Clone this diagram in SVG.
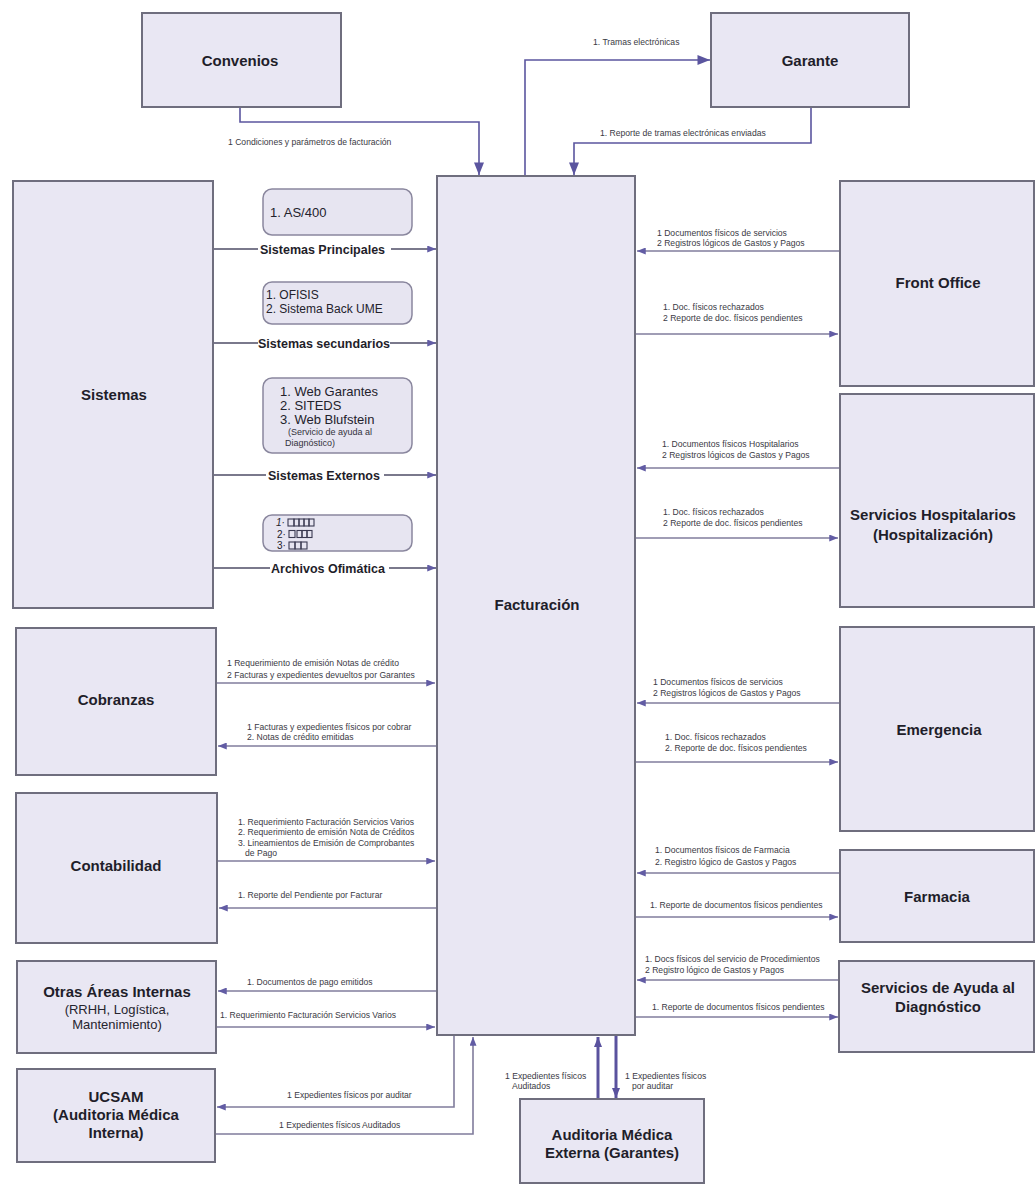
<svg xmlns="http://www.w3.org/2000/svg" width="1036" height="1185" viewBox="0 0 1036 1185">
  <style>
    .box { fill: #e9e7f3; stroke: #6f6e7e; stroke-width: 2; }
    .sbox { fill: #e7e5f1; stroke: #8a879e; stroke-width: 1.5; }
    .node { font-family: "Liberation Sans", Arial, sans-serif; font-weight: bold; font-size: 15px; fill: #1f1e2a; text-anchor: middle; }
    .nsub { font-family: "Liberation Sans", Arial, sans-serif; font-size: 13px; fill: #26252f; text-anchor: middle; }
    .lbl { font-family: "Liberation Sans", Arial, sans-serif; font-size: 8.6px; fill: #3a3a44; }
    .sys { font-family: "Liberation Sans", Arial, sans-serif; font-size: 13px; fill: #23222c; }
    .sys2 { font-family: "Liberation Sans", Arial, sans-serif; font-size: 12px; fill: #23222c; }
    .num { font-family: "Liberation Sans", Arial, sans-serif; font-size: 10px; fill: #23222c; }
    .sysn { font-family: "Liberation Sans", Arial, sans-serif; font-size: 9px; fill: #33323c; }
    .sysl { font-family: "Liberation Sans", Arial, sans-serif; font-weight: bold; font-size: 12.5px; fill: #1f1e2a; }
    .ln { fill: none; stroke: #807c9c; stroke-width: 1.6; }
    .lnd { fill: none; stroke: #5b559f; stroke-width: 1.6; }
    .lns { fill: none; stroke: #4e4c66; stroke-width: 1.4; }
    .lnb { fill: none; stroke: #5a529e; stroke-width: 3; }
    .tofu { fill: none; stroke: #3a3950; stroke-width: 1.1; }
  </style>
  <defs>
    <marker id="arr" viewBox="0 0 10 8" refX="10" refY="4" markerWidth="9" markerHeight="7" markerUnits="userSpaceOnUse" orient="auto">
      <path d="M0,0 L10,4 L0,8 z" fill="#625ca4"/>
    </marker>
    <marker id="arrBig" viewBox="0 0 10 8" refX="10" refY="4" markerWidth="13" markerHeight="10" markerUnits="userSpaceOnUse" orient="auto">
      <path d="M0,0 L10,4 L0,8 z" fill="#5b559f"/>
    </marker>
    <marker id="arrThick" viewBox="0 0 10 8" refX="10" refY="4" markerWidth="10" markerHeight="9" markerUnits="userSpaceOnUse" orient="auto">
      <path d="M0,0 L10,4 L0,8 z" fill="#5a529e"/>
    </marker>
  </defs>

  <rect width="1036" height="1185" fill="#ffffff"/>

  <!-- connectors -->
  <g id="connectors">
    <!-- top -->
    <path class="lnd" d="M240,107 V122 H479 V175" marker-end="url(#arrBig)"/>
    <path class="lnd" d="M525,176 V60 H710" marker-end="url(#arrBig)"/>
    <path class="lnd" d="M811,107 V143 H574 V175" marker-end="url(#arrBig)"/>

    <!-- Sistemas channels -->
    <path class="lns" d="M213,249 H258"/><path class="lns" d="M391,249 H436" marker-end="url(#arr)"/>
    <path class="lns" d="M213,343 H258"/><path class="lns" d="M390,343 H436" marker-end="url(#arr)"/>
    <path class="lns" d="M213,475 H266"/><path class="lns" d="M384,475 H436" marker-end="url(#arr)"/>
    <path class="lns" d="M213,568 H270"/><path class="lns" d="M389,568 H436" marker-end="url(#arr)"/>

    <!-- right side -->
    <path class="ln" d="M840,251 H637" marker-end="url(#arr)"/>
    <path class="ln" d="M635,334 H838" marker-end="url(#arr)"/>
    <path class="ln" d="M840,468 H637" marker-end="url(#arr)"/>
    <path class="ln" d="M635,538 H838" marker-end="url(#arr)"/>
    <path class="ln" d="M840,703 H637" marker-end="url(#arr)"/>
    <path class="ln" d="M635,762 H838" marker-end="url(#arr)"/>
    <path class="ln" d="M840,873 H637" marker-end="url(#arr)"/>
    <path class="ln" d="M635,917 H838" marker-end="url(#arr)"/>
    <path class="ln" d="M840,980 H637" marker-end="url(#arr)"/>
    <path class="ln" d="M635,1017 H838" marker-end="url(#arr)"/>

    <!-- left side -->
    <path class="ln" d="M216,683 H435" marker-end="url(#arr)"/>
    <path class="ln" d="M437,746 H218" marker-end="url(#arr)"/>
    <path class="ln" d="M217,861 H435" marker-end="url(#arr)"/>
    <path class="ln" d="M437,908 H219" marker-end="url(#arr)"/>
    <path class="ln" d="M437,991 H218" marker-end="url(#arr)"/>
    <path class="ln" d="M216,1027 H435" marker-end="url(#arr)"/>

    <!-- UCSAM loop -->
    <path class="ln" d="M454,1035 V1107 H217" marker-end="url(#arr)"/>
    <path class="ln" d="M215,1134 H473 V1037" marker-end="url(#arr)"/>

    <!-- external audit -->
    <path class="lnb" d="M598,1099 V1037" marker-end="url(#arrThick)"/>
    <path class="lnb" d="M616,1036 V1098" marker-end="url(#arrThick)"/>
  </g>

  <!-- connector labels -->
  <g id="labels">
    <text class="lbl" x="228" y="145">1 Condiciones y parámetros de facturación</text>
    <text class="lbl" x="593" y="45">1. Tramas electrónicas</text>
    <text class="lbl" x="600" y="136">1. Reporte de tramas electrónicas enviadas</text>

    <text class="lbl" x="657" y="236">1 Documentos físicos de servicios</text>
    <text class="lbl" x="657" y="246">2 Registros lógicos de Gastos y Pagos</text>
    <text class="lbl" x="663" y="310">1. Doc. físicos rechazados</text>
    <text class="lbl" x="663" y="321">2 Reporte de doc. físicos pendientes</text>

    <text class="lbl" x="662" y="447">1. Documentos físicos Hospitalarios</text>
    <text class="lbl" x="662" y="458">2 Registros lógicos de Gastos y Pagos</text>
    <text class="lbl" x="663" y="515">1. Doc. físicos rechazados</text>
    <text class="lbl" x="663" y="526">2 Reporte de doc. físicos pendientes</text>

    <text class="lbl" x="653" y="685">1 Documentos físicos de servicios</text>
    <text class="lbl" x="653" y="696">2 Registros lógicos de Gastos y Pagos</text>
    <text class="lbl" x="665" y="740">1. Doc. físicos rechazados</text>
    <text class="lbl" x="665" y="751">2. Reporte de doc. físicos pendientes</text>

    <text class="lbl" x="655" y="853">1. Documentos físicos de Farmacia</text>
    <text class="lbl" x="655" y="865">2. Registro lógico de Gastos y Pagos</text>
    <text class="lbl" x="650" y="908">1. Reporte de documentos físicos pendientes</text>

    <text class="lbl" x="645" y="962">1. Docs físicos del servicio de  Procedimientos</text>
    <text class="lbl" x="645" y="973">2 Registro lógico de Gastos y Pagos</text>
    <text class="lbl" x="652" y="1010">1. Reporte de documentos físicos pendientes</text>

    <text class="lbl" x="227" y="666">1 Requerimiento de emisión Notas de crédito</text>
    <text class="lbl" x="227" y="678">2 Facturas y expedientes devueltos por Garantes</text>
    <text class="lbl" x="247" y="730">1 Facturas y expedientes físicos por cobrar</text>
    <text class="lbl" x="247" y="740">2. Notas de crédito emitidas</text>

    <text class="lbl" x="238" y="825">1. Requerimiento Facturación Servicios Varios</text>
    <text class="lbl" x="238" y="835">2. Requerimiento de emisión Nota de Créditos</text>
    <text class="lbl" x="238" y="846">3. Lineamientos de Emisión de Comprobantes</text>
    <text class="lbl" x="245" y="856">de Pago</text>
    <text class="lbl" x="238" y="898">1. Reporte del Pendiente por Facturar</text>

    <text class="lbl" x="247" y="985">1. Documentos de pago emitidos</text>
    <text class="lbl" x="220" y="1018">1. Requerimiento Facturación Servicios Varios</text>

    <text class="lbl" x="287" y="1098">1 Expedientes físicos por auditar</text>
    <text class="lbl" x="279" y="1128">1 Expedientes físicos Auditados</text>

    <text class="lbl" x="505" y="1079">1 Expedientes físicos</text>
    <text class="lbl" x="512" y="1089">Auditados</text>
    <text class="lbl" x="625" y="1079">1 Expedientes físicos</text>
    <text class="lbl" x="632" y="1089">por auditar</text>
  </g>

  <!-- nodes -->
  <g id="convenios">
    <rect class="box" x="142" y="13" width="199" height="94"/>
    <text class="node" x="240" y="66">Convenios</text>
  </g>

  <g id="garante">
    <rect class="box" x="711" y="13" width="198" height="94"/>
    <text class="node" x="810" y="66">Garante</text>
  </g>

  <g id="sistemas">
    <rect class="box" x="13" y="181" width="200" height="427"/>
    <text class="node" x="114" y="400">Sistemas</text>
  </g>

  <g id="sistemas-principales">
    <rect class="sbox" x="263" y="189" width="149" height="46" rx="9"/>
    <text class="sys" x="270" y="217">1. AS/400</text>
    <text class="sysl" x="260" y="253.5">Sistemas Principales</text>
  </g>

  <g id="sistemas-secundarios">
    <rect class="sbox" x="263" y="282" width="149" height="42" rx="9"/>
    <text class="sys2" x="266" y="299">1. OFISIS</text>
    <text class="sys2" x="266" y="313">2. Sistema Back UME</text>
    <text class="sysl" x="258" y="347.5">Sistemas secundarios</text>
  </g>

  <g id="sistemas-externos">
    <rect class="sbox" x="263" y="378" width="149" height="75" rx="9"/>
    <text class="sys" x="280" y="396">1. Web Garantes</text>
    <text class="sys" x="280" y="410">2. SITEDS</text>
    <text class="sys" x="280" y="424">3. Web Blufstein</text>
    <text class="sysn" x="288" y="435">(Servicio de ayuda al</text>
    <text class="sysn" x="285" y="446">Diagnóstico)</text>
    <text class="sysl" x="268" y="479.5">Sistemas Externos</text>
  </g>

  <g id="archivos-ofimatica">
    <rect class="sbox" x="263" y="515" width="149" height="36" rx="9"/>
    <text class="num" x="276" y="526" font-style="italic">1·</text>
    <text class="num" x="277" y="537.5">2·</text>
    <text class="num" x="277" y="549">3·</text>
    <g class="tofu">
      <rect x="288" y="519" width="6" height="7"/><rect x="294" y="519" width="5" height="7"/><rect x="299" y="519" width="5" height="7"/><rect x="304" y="519" width="5" height="7"/><rect x="309" y="519" width="5" height="7"/>
      <rect x="289" y="530.5" width="6" height="7"/><rect x="297" y="530.5" width="5" height="7"/><rect x="302" y="530.5" width="5" height="7"/><rect x="307" y="530.5" width="5" height="7"/>
      <rect x="289" y="542" width="6" height="7"/><rect x="295" y="542" width="6" height="7"/><rect x="301" y="542" width="6" height="7"/>
    </g>
    <text class="sysl" x="271" y="572.5">Archivos Ofimática</text>
  </g>

  <g id="facturacion">
    <rect class="box" x="437" y="176" width="198" height="859"/>
    <text class="node" x="537" y="610">Facturación</text>
  </g>

  <g id="cobranzas">
    <rect class="box" x="16" y="628" width="200" height="147"/>
    <text class="node" x="116" y="705">Cobranzas</text>
  </g>

  <g id="contabilidad">
    <rect class="box" x="16" y="793" width="201" height="150"/>
    <text class="node" x="116" y="871">Contabilidad</text>
  </g>

  <g id="otras-areas">
    <rect class="box" x="17" y="961" width="199" height="92"/>
    <text class="node" x="117" y="997">Otras Áreas Internas</text>
    <text class="nsub" x="117" y="1014">(RRHH, Logística,</text>
    <text class="nsub" x="117" y="1029">Mantenimiento)</text>
  </g>

  <g id="ucsam">
    <rect class="box" x="17" y="1069" width="198" height="93"/>
    <text class="node" x="116" y="1102">UCSAM</text>
    <text class="node" x="116" y="1120">(Auditoria Médica</text>
    <text class="node" x="116" y="1138">Interna)</text>
  </g>

  <g id="front-office">
    <rect class="box" x="840" y="181" width="194" height="205"/>
    <text class="node" x="938" y="288">Front Office</text>
  </g>

  <g id="servicios-hospitalarios">
    <rect class="box" x="840" y="394" width="194" height="213"/>
    <text class="node" x="933" y="520">Servicios Hospitalarios</text>
    <text class="node" x="933" y="540">(Hospitalización)</text>
  </g>

  <g id="emergencia">
    <rect class="box" x="840" y="627" width="194" height="204"/>
    <text class="node" x="939" y="735">Emergencia</text>
  </g>

  <g id="farmacia">
    <rect class="box" x="840" y="850" width="194" height="92"/>
    <text class="node" x="937" y="902">Farmacia</text>
  </g>

  <g id="servicios-ayuda">
    <rect class="box" x="839" y="961" width="195" height="91"/>
    <text class="node" x="938" y="993">Servicios de Ayuda al</text>
    <text class="node" x="938" y="1012">Diagnóstico</text>
  </g>

  <g id="auditoria-externa">
    <rect class="box" x="520" y="1099" width="184" height="84"/>
    <text class="node" x="612" y="1140">Auditoria Médica</text>
    <text class="node" x="612" y="1158">Externa (Garantes)</text>
  </g>
</svg>
